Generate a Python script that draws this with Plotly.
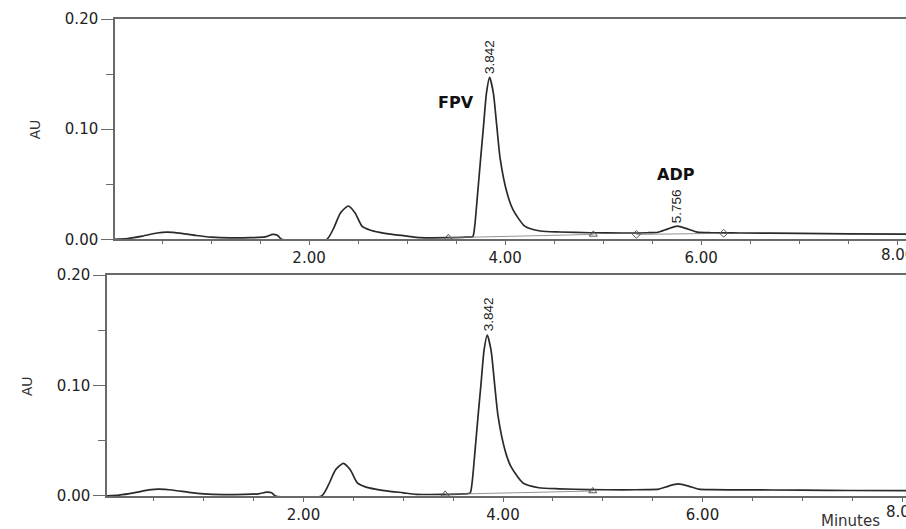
import plotly.graph_objects as go

# ---- data ----
time_min = [0.00, 0.15, 0.30, 0.45, 0.55, 0.70, 0.85, 1.00, 1.20, 1.40, 1.55, 1.63, 1.68, 1.72,
            2.18, 2.25, 2.32, 2.40, 2.47, 2.54, 2.62, 2.72, 2.85, 3.00, 3.13, 3.40, 3.60, 3.67,
            3.69, 3.72, 3.75, 3.78, 3.81, 3.842, 3.88, 3.915, 3.95, 4.02, 4.08, 4.20, 4.36, 4.56,
            4.87, 5.20, 5.45, 5.56, 5.66, 5.756, 5.86, 5.96, 6.10, 6.40, 7.00, 7.50, 8.10]

au_top = [0.0000, 0.0008, 0.0030, 0.0058, 0.0066, 0.0055, 0.0035, 0.0020, 0.0013, 0.0015, 0.0022, 0.0045, 0.0035, 0.0000,
          0.0000, 0.0100, 0.0240, 0.0303, 0.0240, 0.0120, 0.0085, 0.0063, 0.0045, 0.0030, 0.0015, 0.0015, 0.0020, 0.0025,
          0.0120, 0.0420, 0.0730, 0.1030, 0.1330, 0.1470, 0.1330, 0.1030, 0.0730, 0.0420, 0.0270, 0.0120, 0.0076, 0.0067,
          0.0060, 0.0058, 0.0060, 0.0065, 0.0095, 0.0120, 0.0095, 0.0066, 0.0060, 0.0058, 0.0055, 0.0050, 0.0048]

au_bottom = [0.0000, 0.0008, 0.0028, 0.0055, 0.0062, 0.0052, 0.0033, 0.0019, 0.0013, 0.0015, 0.0020, 0.0035, 0.0030, 0.0000,
             0.0000, 0.0100, 0.0235, 0.0296, 0.0235, 0.0118, 0.0083, 0.0062, 0.0044, 0.0029, 0.0015, 0.0015, 0.0020, 0.0025,
             0.0120, 0.0415, 0.0725, 0.1020, 0.1320, 0.1457, 0.1320, 0.1020, 0.0725, 0.0415, 0.0265, 0.0118, 0.0075, 0.0065,
             0.0058, 0.0056, 0.0058, 0.0062, 0.0090, 0.0109, 0.0090, 0.0062, 0.0057, 0.0056, 0.0053, 0.0050, 0.0048]

# integration baselines / peak markers
fpv_base_t = [3.42, 4.90]
fpv_base_au = [0.0015, 0.0045]
adp_base_t = [5.34, 6.23]
adp_base_au = [0.0045, 0.0055]

peak_labels_top = ["3.842", "5.756"]
peak_times_top = [3.842, 5.756]
peak_heights_top = [0.147, 0.0122]
compound_names = ["FPV", "ADP"]
compound_x = [3.50, 5.745]
compound_y = [0.1245, 0.059]
last_tick_value = 8.0
last_tick_label = "8.00"

LINE = "#2a2a2a"
AXIS = "#6a6a6a"
TICKFONT = dict(family="DejaVu Sans", size=15, color="#222222")

fig = go.Figure()

# top chromatogram
fig.add_trace(go.Scatter(x=time_min, y=au_top, mode="lines",
                         line=dict(color=LINE, width=1.7, shape="spline", smoothing=0.6),
                         xaxis="x", yaxis="y", showlegend=False, hoverinfo="skip"))
fig.add_trace(go.Scatter(x=fpv_base_t, y=fpv_base_au, mode="lines+markers",
                         line=dict(color="#777777", width=0.8),
                         marker=dict(symbol="triangle-up-open", size=7, color="#555555", line=dict(width=1)),
                         xaxis="x", yaxis="y", showlegend=False, hoverinfo="skip"))
fig.add_trace(go.Scatter(x=adp_base_t, y=adp_base_au, mode="lines+markers",
                         line=dict(color="#777777", width=0.8),
                         marker=dict(symbol="diamond-open", size=6, color="#555555", line=dict(width=1)),
                         xaxis="x", yaxis="y", showlegend=False, hoverinfo="skip"))

# bottom chromatogram
fig.add_trace(go.Scatter(x=time_min, y=au_bottom, mode="lines",
                         line=dict(color=LINE, width=1.7, shape="spline", smoothing=0.6),
                         xaxis="x2", yaxis="y2", showlegend=False, hoverinfo="skip"))
fig.add_trace(go.Scatter(x=fpv_base_t, y=fpv_base_au, mode="lines+markers",
                         line=dict(color="#777777", width=0.8),
                         marker=dict(symbol="triangle-up-open", size=7, color="#555555", line=dict(width=1)),
                         xaxis="x2", yaxis="y2", showlegend=False, hoverinfo="skip"))

xcommon = dict(showline=True, linecolor=AXIS, linewidth=1.5, mirror=True, showgrid=False, zeroline=False,
               tick0=0, dtick=2, tickformat=".2f", ticks="outside", ticklen=4, tickcolor=AXIS, tickwidth=1,
               minor=dict(dtick=0.5, ticks="outside", ticklen=3, tickcolor=AXIS, tickwidth=1),
               tickfont=TICKFONT, fixedrange=True, automargin=False)
ycommon = dict(showline=True, linecolor=AXIS, linewidth=1.5, showgrid=False, zeroline=False,
               range=[0, 0.2], tick0=0, dtick=0.1, tickformat=".2f", ticks="outside", ticklen=12,
               tickcolor=AXIS, tickwidth=1,
               minor=dict(dtick=0.05, ticks="outside", ticklen=7, tickcolor=AXIS, tickwidth=1),
               tickfont=TICKFONT, fixedrange=True, automargin=False)

fig.update_layout(
    width=906, height=529,
    margin=dict(l=107, r=0, t=19, b=33),
    paper_bgcolor="white", plot_bgcolor="white",
    xaxis=dict(domain=[0.010, 1], range=[0.02, 8.09], anchor="y", **xcommon),
    yaxis=dict(domain=[0.538, 1], anchor="x", **ycommon),
    xaxis2=dict(domain=[0, 1], range=[0.03, 8.04], anchor="y2", **xcommon),
    yaxis2=dict(domain=[0, 0.4633], anchor="x2", **ycommon),
)

anns = []
for lab, t, h in zip(peak_labels_top, peak_times_top, peak_heights_top):
    anns.append(dict(x=t, y=h, xref="x", yref="y", text=lab, textangle=-90, showarrow=False,
                     yanchor="bottom", xanchor="center", yshift=1,
                     font=dict(family="Liberation Sans", size=13.5, color="#222222")))
anns.append(dict(x=3.85, y=0.1465, xref="x2", yref="y2", text="3.842", textangle=-90, showarrow=False,
                 yanchor="bottom", xanchor="center", yshift=1,
                 font=dict(family="Liberation Sans", size=13.5, color="#222222")))
for name, cx, cy in zip(compound_names, compound_x, compound_y):
    anns.append(dict(x=cx, y=cy, xref="x", yref="y", text="<b>" + name + "</b>", showarrow=False,
                     xanchor="center", yanchor="middle",
                     font=dict(family="DejaVu Sans", size=16, color="#111111")))
# last x tick label (partly cut by the right edge, as in the reference)
for xr, yr in (("x", "y"), ("x2", "y2")):
    anns.append(dict(x=last_tick_value, y=0, xref=xr, yref=yr, text=last_tick_label, showarrow=False,
                     xanchor="center", yanchor="top", yshift=-5, font=TICKFONT))
anns.append(dict(x=-0.090, y=0.767, xref="paper", yref="paper", text="AU", textangle=-90, showarrow=False,
                 xanchor="center", yanchor="middle",
                 font=dict(family="Liberation Sans", size=14, color="#333333")))
anns.append(dict(x=-0.100, y=0.2285, xref="paper", yref="paper", text="AU", textangle=-90, showarrow=False,
                 xanchor="center", yanchor="middle",
                 font=dict(family="Liberation Sans", size=14, color="#333333")))
anns.append(dict(x=0.931, y=-0.0524, xref="paper", yref="paper", text="Minutes", showarrow=False,
                 xanchor="center", yanchor="middle",
                 font=dict(family="DejaVu Sans", size=15, color="#333333")))
fig.update_layout(annotations=anns)

fig.write_html("out.html", config={"displayModeBar": False},
               post_script="document.body.style.margin='0';document.body.style.padding='0';")
